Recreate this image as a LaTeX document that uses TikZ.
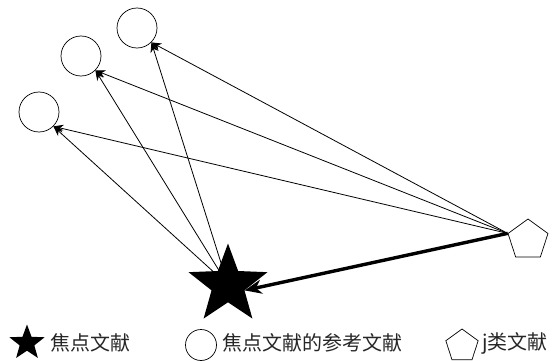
\documentclass[tikz,border=0pt]{standalone}
\usepackage{fontspec}
\newfontfamily\cjk{Noto Sans CJK SC}
\usetikzlibrary{positioning,shapes.geometric,arrows.meta}

\begin{document}
\begin{tikzpicture}[x=1pt,y=-1pt,
  refnode/.style={circle,draw,line width=0.7pt,inner sep=0pt,minimum size=40pt},
  jnode/.style={regular polygon,regular polygon sides=5,draw,line width=0.7pt,inner sep=0pt,minimum size=42pt},
  focal/.style={star,star points=5,star point ratio=2.4,fill=black,inner sep=0pt,minimum size=83pt},
  cite/.style={-{Stealth[length=10pt,width=8pt]},line width=0.8pt},
  legend/.style={anchor=west,font=\cjk\fontsize{20}{24}\selectfont,text=black!85,inner sep=0pt}]
  \useasboundingbox (0,0) rectangle (552,361);
  \coordinate (fc) at (228,285);
  \node[jnode] (j) at (528,240) {};
  \foreach \n/\x/\y in {r1/137/28, r2/81/56, r3/39/112} {
    \node[refnode] (\n) at (\x,\y) {};
    \draw[cite] (fc) -- (\n.south east);
    \draw[cite] (j.corner 2) -- (\n.south east);
  }
  \node[focal] (f) at (fc) {};
  \draw[-{Stealth[length=17pt,width=14pt]},line width=3.4pt] (j.corner 2) -- (f.inner point 4);

  \node[focal,minimum size=37pt] (kf) at (27,343) {};
  \node[legend] (tf) at (50,343) {焦点文献};
  \node[refnode,minimum size=31pt] (kr) at (201,345) {};
  \node[legend] (tr) at (222,343) {焦点文献的参考文献};
  \node[jnode,minimum size=34pt] (kj) at (462,346) {};
  \node[legend] (tj) at (482,343) {j类文献};
\end{tikzpicture}
\end{document}
